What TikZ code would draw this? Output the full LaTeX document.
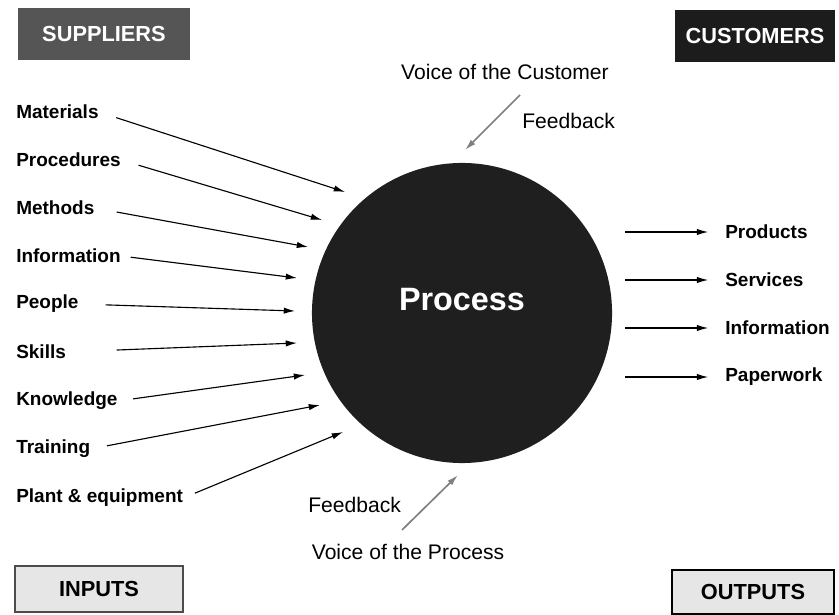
\documentclass[tikz,border=0pt]{standalone}
\usepackage{fontspec}
\setmainfont{Liberation Sans}
\usetikzlibrary{arrows.meta}

\definecolor{supgray}{HTML}{555555}
\definecolor{cusgray}{HTML}{1C1C1C}
\definecolor{boxgray}{HTML}{E6E6E6}

\begin{document}
\begin{tikzpicture}[x=0.025cm, y=-0.025cm,
    lbl/.style={anchor=west, inner sep=0pt, font=\fontsize{13.5}{16}\selectfont\bfseries},
    voice/.style={inner sep=0pt, font=\fontsize{15}{18}\selectfont},
    arr/.style={-{Latex[length=8pt,width=4.5pt]}, line width=0.8pt},
    fbarr/.style={-{Latex[length=8pt,width=4.5pt]}, line width=1.2pt, gray},
    head/.style={minimum height=1.3cm, inner sep=0pt, font=\fontsize{15.5}{18}\selectfont\bfseries}
    ]
        \useasboundingbox (0,0) rectangle (839,615);

        % corner boxes
        \node[head, fill=supgray, text=white, minimum width=4.3cm] at (104,34) (sup) {SUPPLIERS};
        \node[head, fill=cusgray, text=white, minimum width=4cm] at (755,36) (cus) {CUSTOMERS};
        \node[head, fill=boxgray, draw=black!70, line width=2pt, minimum width=4.2cm, minimum height=1.15cm] at (99,589) (inp) {INPUTS};
        \node[head, fill=boxgray, draw=black, line width=2pt, minimum width=4.05cm, minimum height=1.1cm] at (753,592) (outp) {OUTPUTS};

        % the process
        \node[circle, fill=black!88, minimum size=7.5cm, inner sep=0pt] at (462,313) (proc) {};
        \node[text=white, font=\fontsize{23}{28}\selectfont\bfseries] at (462,300) (ptxt) {Process};

        % inputs
        \node[lbl] at (16,112) (mat) {Materials};
        \node[lbl] at (16,160) (pro) {Procedures};
        \node[lbl] at (16,208) (met) {Methods};
        \node[lbl] at (16,256) (inf) {Information};
        \node[lbl] at (16,304) (peo) {People};
        \node[lbl] at (16,352) (ski) {Skills};
        \node[lbl] at (16,401) (kno) {Knowledge};
        \node[lbl] at (16,449) (tra) {Training};
        \node[lbl] at (16,498) (pla) {Plant \& equipment};

        \coordinate (e1) at (345,192);
        \coordinate (e2) at (322,220);
        \coordinate (e3) at (308,247);
        \coordinate (e4) at (297,278);
        \coordinate (e5) at (295,311);
        \coordinate (e6) at (297,343);
        \coordinate (e7) at (305,375);
        \coordinate (e8) at (320,405);
        \coordinate (e9) at (343,432);

        \draw[arr, shorten <=13pt] (mat.east) -- (e1);
        \draw[arr, shorten <=13pt] (pro.east) -- (e2);
        \draw[arr, shorten <=16pt] (met.east) -- (e3);
        \draw[arr, shorten <=7pt] (inf.east) -- (e4);
        \draw[arr, shorten <=19pt] (peo.east) -- (e5);
        \draw[arr, shorten <=36pt] (ski.east) -- (e6);
        \draw[arr, shorten <=11pt] (kno.east) -- (e7);
        \draw[arr, shorten <=12pt] (tra.east) -- (e8);
        \draw[arr, shorten <=9pt] (pla.east) -- (e9);

        % outputs
        \node[lbl] at (725,232) (prd) {Products};
        \node[lbl] at (725,280) (ser) {Services};
        \node[lbl] at (725,328) (oinf) {Information};
        \node[lbl] at (725,377) (pap) {Paperwork};

        \coordinate (s1) at (625,232);
        \coordinate (s2) at (625,280);
        \coordinate (s3) at (625,328);
        \coordinate (s4) at (625,377);

        \draw[arr, shorten >=12pt] (s1) -- (prd.west);
        \draw[arr, shorten >=12pt] (s2) -- (ser.west);
        \draw[arr, shorten >=12pt] (s3) -- (oinf.west);
        \draw[arr, shorten >=12pt] (s4) -- (pap.west);

        % feedback loops
        \node[voice] at (505,72) (voc) {Voice of the Customer};
        \node[voice, anchor=west] at (522,121) (fbc) {Feedback};
        \node[voice, anchor=west] at (308,505) (fbp) {Feedback};
        \node[voice] at (408,552) (vop) {Voice of the Process};

        \coordinate (c1) at (520,95);
        \coordinate (c2) at (465,150);
        \coordinate (p1) at (402,530);
        \coordinate (p2) at (458,475);

        \draw[fbarr] (c1) -- (c2);
        \draw[fbarr] (p1) -- (p2);
    \end{tikzpicture}
\end{document}
